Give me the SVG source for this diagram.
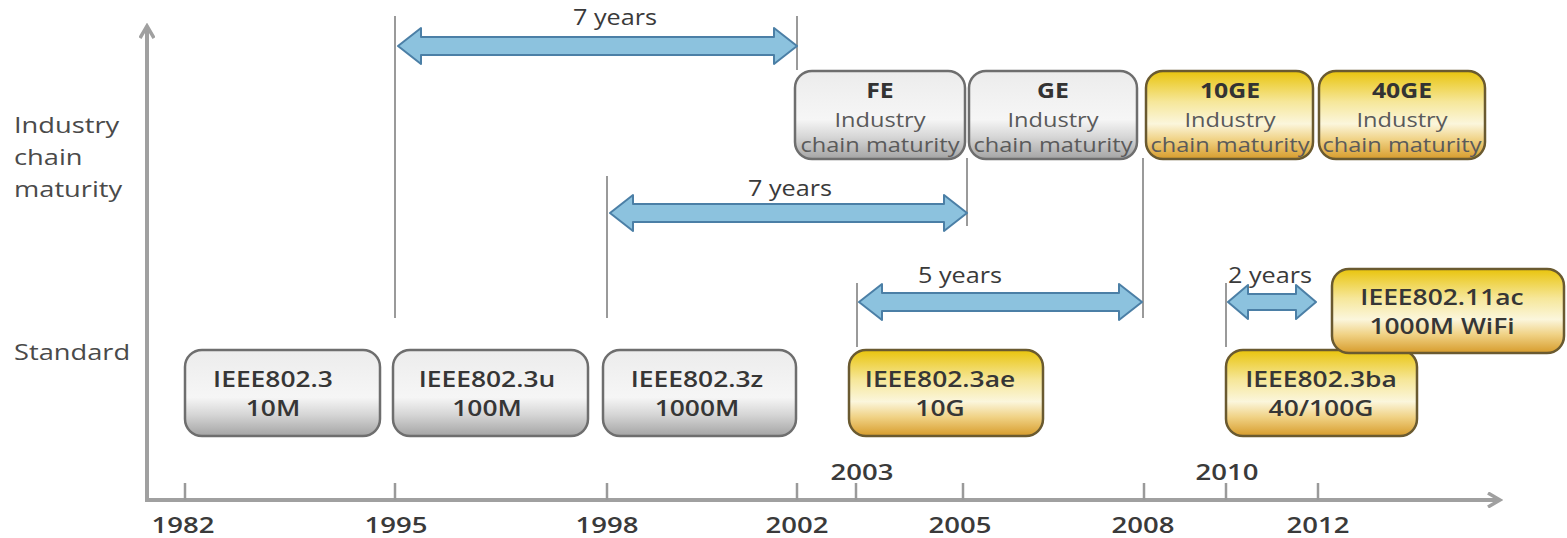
<svg xmlns="http://www.w3.org/2000/svg" width="1567" height="538" viewBox="0 0 1567 538">
  <defs>
    <linearGradient id="gGray" x1="0" y1="0" x2="0" y2="1">
      <stop offset="0" stop-color="#ececec"/>
      <stop offset="0.55" stop-color="#f6f6f6"/>
      <stop offset="0.75" stop-color="#d6d6d6"/>
      <stop offset="1" stop-color="#a4a4a4"/>
    </linearGradient>
    <linearGradient id="gGold" x1="0" y1="0" x2="0" y2="1">
      <stop offset="0" stop-color="#e9c40c"/>
      <stop offset="0.35" stop-color="#f6e79a"/>
      <stop offset="0.6" stop-color="#fbf6dc"/>
      <stop offset="0.78" stop-color="#f0d285"/>
      <stop offset="1" stop-color="#d79c2c"/>
    </linearGradient>
    <marker id="axHead" markerWidth="16" markerHeight="16" refX="13" refY="8" orient="auto" markerUnits="userSpaceOnUse">
      <path d="M1,1 L13,8 L1,15" fill="none" stroke="#a0a0a0" stroke-width="3.5"/>
    </marker>
  </defs>
  <style>
    text { font-family: "Open Sans", "Noto Sans", "Liberation Sans", sans-serif; }
    /* the lettering in this chart is set wide: stretch glyphs horizontally about their own box */
    .ttl, .sub, .std, .year, .span-lbl { transform-box: fill-box; transform-origin: 50% 50%; }
    .row { transform-box: fill-box; transform-origin: 0 50%; transform: scaleX(1.24); }
    .box-gray { fill: url(#gGray); stroke: #6e6e6e; stroke-width: 2.5; }
    .box-gold { fill: url(#gGold); stroke: #6a5a30; stroke-width: 2.5; }
    .ttl { font-size: 21px; font-weight: 700; fill: #333333; text-anchor: middle; transform: scaleX(1.18); }
    .sub { font-size: 20px; fill: #5a5a5a; text-anchor: middle; transform: scaleX(1.18); }
    .std { font-size: 22px; font-weight: 600; fill: #363636; text-anchor: middle; transform: scaleX(1.2); }
    .axis { stroke: #a0a0a0; stroke-width: 4; fill: none; }
    .tick { stroke: #9a9a9a; stroke-width: 2.5; }
    .guide { stroke: #9a9a9a; stroke-width: 2; }
    .year { font-size: 22px; font-weight: 600; fill: #3a3a3a; text-anchor: middle; transform: scaleX(1.25); }
    .row { font-size: 22px; fill: #4a4a4a; }
    .span { fill: #8cc2de; stroke: #4b7fa6; stroke-width: 2; stroke-linejoin: round; }
    .span-lbl { font-size: 21px; fill: #3a3a3a; text-anchor: middle; transform: scaleX(1.2); }
  </style>

  <rect width="1567" height="538" fill="#ffffff"/>

  <!-- axes -->
  <g id="axes">
    <line class="axis" x1="147" y1="500" x2="147" y2="26" marker-end="url(#axHead)"/>
    <line class="axis" x1="145" y1="500" x2="1500" y2="500" marker-end="url(#axHead)"/>
    <g>
      <line class="tick" x1="185" y1="483" x2="185" y2="500"/>
      <line class="tick" x1="395" y1="483" x2="395" y2="500"/>
      <line class="tick" x1="607" y1="483" x2="607" y2="500"/>
      <line class="tick" x1="797" y1="483" x2="797" y2="500"/>
      <line class="tick" x1="856" y1="483" x2="856" y2="500"/>
      <line class="tick" x1="963" y1="483" x2="963" y2="500"/>
      <line class="tick" x1="1144" y1="483" x2="1144" y2="500"/>
      <line class="tick" x1="1226" y1="483" x2="1226" y2="500"/>
      <line class="tick" x1="1318" y1="483" x2="1318" y2="500"/>
    </g>
    <text class="year" x="183" y="533">1982</text>
    <text class="year" x="396" y="533">1995</text>
    <text class="year" x="607" y="533">1998</text>
    <text class="year" x="797" y="533">2002</text>
    <text class="year" x="862" y="480">2003</text>
    <text class="year" x="960" y="533">2005</text>
    <text class="year" x="1143" y="533">2008</text>
    <text class="year" x="1227" y="480">2010</text>
    <text class="year" x="1318" y="533">2012</text>
  </g>

  <!-- row captions -->
  <g id="row-labels">
    <text class="row" x="14" y="133">Industry</text>
    <text class="row" x="14" y="165">chain</text>
    <text class="row" x="14" y="197">maturity</text>
    <text class="row" x="14" y="360">Standard</text>
  </g>

  <!-- connectors: guide lines and year-span arrows -->
  <g id="connectors">
    <line class="guide" x1="395" y1="16" x2="395" y2="318"/>
    <line class="guide" x1="797" y1="16" x2="797" y2="70"/>
    <line class="guide" x1="607" y1="176" x2="607" y2="318"/>
    <line class="guide" x1="967" y1="158" x2="967" y2="226"/>
    <line class="guide" x1="1143" y1="158" x2="1143" y2="318"/>
    <line class="guide" x1="857" y1="283" x2="857" y2="347"/>
    <line class="guide" x1="1226" y1="283" x2="1226" y2="347"/>

    <path class="span" d="M398,46 L421,28 L421,37 L774,37 L774,28 L797,46 L774,64 L774,55 L421,55 L421,64 Z"/>
    <text class="span-lbl" x="615" y="25">7 years</text>

    <path class="span" d="M610,213 L633,195 L633,204 L944,204 L944,195 L967,213 L944,231 L944,222 L633,222 L633,231 Z"/>
    <text class="span-lbl" x="790" y="196">7 years</text>

    <path class="span" d="M859,302 L882,284 L882,293 L1119,293 L1119,284 L1142,302 L1119,320 L1119,311 L882,311 L882,320 Z"/>
    <text class="span-lbl" x="960" y="283">5 years</text>

    <path class="span" d="M1228,302 L1248,285 L1248,294 L1296,294 L1296,285 L1316,302 L1296,319 L1296,310 L1248,310 L1248,319 Z"/>
    <text class="span-lbl" x="1270" y="283">2 years</text>
  </g>

  <!-- industry chain maturity nodes -->
  <g id="node-fe">
    <rect class="box-gray" x="795" y="71" width="170" height="88" rx="17"/>
    <text class="ttl" x="880" y="98">FE</text>
    <text class="sub" x="880" y="127">Industry</text>
    <text class="sub" x="880" y="152">chain maturity</text>
  </g>
  <g id="node-ge">
    <rect class="box-gray" x="969" y="71" width="168" height="88" rx="17"/>
    <text class="ttl" x="1053" y="98">GE</text>
    <text class="sub" x="1053" y="127">Industry</text>
    <text class="sub" x="1053" y="152">chain maturity</text>
  </g>
  <g id="node-10ge">
    <rect class="box-gold" x="1146" y="71" width="167" height="88" rx="17"/>
    <text class="ttl" x="1230" y="98">10GE</text>
    <text class="sub" x="1230" y="127">Industry</text>
    <text class="sub" x="1230" y="152">chain maturity</text>
  </g>
  <g id="node-40ge">
    <rect class="box-gold" x="1319" y="71" width="166" height="88" rx="17"/>
    <text class="ttl" x="1402" y="98">40GE</text>
    <text class="sub" x="1402" y="127">Industry</text>
    <text class="sub" x="1402" y="152">chain maturity</text>
  </g>

  <!-- standard nodes -->
  <g id="node-8023">
    <rect class="box-gray" x="185" y="350" width="195" height="86" rx="17"/>
    <text class="std" x="273" y="387">IEEE802.3</text>
    <text class="std" x="273" y="416">10M</text>
  </g>
  <g id="node-8023u">
    <rect class="box-gray" x="393" y="350" width="195" height="86" rx="17"/>
    <text class="std" x="487" y="387">IEEE802.3u</text>
    <text class="std" x="487" y="416">100M</text>
  </g>
  <g id="node-8023z">
    <rect class="box-gray" x="603" y="350" width="193" height="86" rx="17"/>
    <text class="std" x="697" y="387">IEEE802.3z</text>
    <text class="std" x="697" y="416">1000M</text>
  </g>
  <g id="node-8023ae">
    <rect class="box-gold" x="849" y="350" width="194" height="86" rx="17"/>
    <text class="std" x="940" y="387">IEEE802.3ae</text>
    <text class="std" x="940" y="416">10G</text>
  </g>
  <g id="node-8023ba">
    <rect class="box-gold" x="1226" y="350" width="191" height="86" rx="17"/>
    <text class="std" x="1321" y="387">IEEE802.3ba</text>
    <text class="std" x="1321" y="416">40/100G</text>
  </g>
  <g id="node-80211ac">
    <rect class="box-gold" x="1332" y="269" width="232" height="84" rx="17"/>
    <text class="std" x="1442" y="305">IEEE802.11ac</text>
    <text class="std" x="1442" y="334">1000M  WiFi</text>
  </g>
</svg>
